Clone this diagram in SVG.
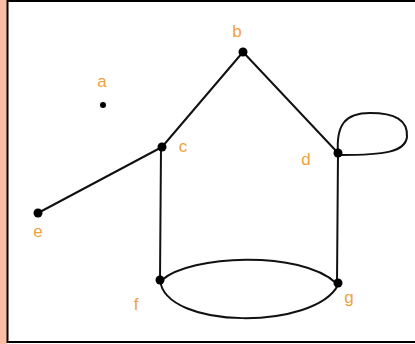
<svg xmlns="http://www.w3.org/2000/svg" width="415" height="344" viewBox="0 0 415 344">
<style>
.edge{fill:none;stroke:#111;stroke-width:2;stroke-linecap:round}
.dot{fill:#000}
.lbl{font-family:"Liberation Sans",Arial,sans-serif;font-size:17px;fill:#f0a23c;text-anchor:middle}
</style>
<rect x="0" y="0" width="415" height="344" fill="#fff"/>
<rect x="0" y="0" width="7" height="344" fill="#fbbda6"/>
<rect x="7.5" y="1" width="410" height="341" fill="#fff" stroke="#000" stroke-width="2"/>
<g id="edges">
<path class="edge" d="M243,52 L162,147"/>
<path class="edge" d="M243,52 L338,153"/>
<path class="edge" d="M162,147 L38,213"/>
<path class="edge" d="M161,147 L160,280"/>
<path class="edge" d="M338,153 L337,283"/>
<path class="edge" d="M338,153 C336,125 345,113 370,113 C395,113 408,120 407,137 C405,152 385,155 340,155"/>
<path class="edge" d="M162,280 C190,255 300,250 336,283"/>
<path class="edge" d="M160,280 C165,330 315,330 338,285"/>
</g>
<g id="a"><circle class="dot" cx="103" cy="105" r="3"/><text class="lbl" x="102" y="87">a</text></g>
<g id="b"><circle class="dot" cx="243" cy="52" r="4.5"/><text class="lbl" x="237" y="37">b</text></g>
<g id="c"><circle class="dot" cx="162" cy="147" r="4.5"/><text class="lbl" x="183" y="152">c</text></g>
<g id="d"><circle class="dot" cx="338" cy="153" r="4.5"/><text class="lbl" x="306" y="165">d</text></g>
<g id="e"><circle class="dot" cx="38" cy="213" r="4.5"/><text class="lbl" x="38" y="237">e</text></g>
<g id="f"><circle class="dot" cx="160" cy="280" r="4.5"/><text class="lbl" x="136" y="310">f</text></g>
<g id="g"><circle class="dot" cx="338" cy="283" r="4.5"/><text class="lbl" x="349" y="303">g</text></g>
</svg>
